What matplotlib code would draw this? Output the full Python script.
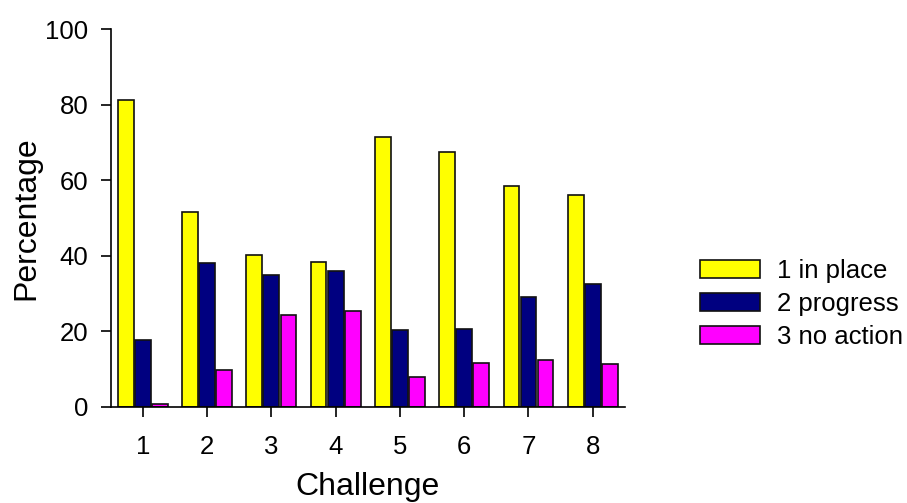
import matplotlib
matplotlib.use('Agg')
import matplotlib.pyplot as plt
import numpy as np

plt.rcParams['font.family'] = ['Liberation Sans', 'DejaVu Sans']

challenges = [1, 2, 3, 4, 5, 6, 7, 8]
in_place = [81.2, 51.7, 40.3, 38.3, 71.5, 67.5, 58.5, 56.1]
progress = [17.7, 38.2, 35.0, 36.0, 20.3, 20.5, 29.0, 32.5]
no_action = [0.8, 9.8, 24.3, 25.4, 7.9, 11.6, 12.4, 11.4]
series_names = ['1 in place', '2 progress', '3 no action']
colors = ['#FFFF00', '#000080', '#FF00FF']

fig = plt.figure(figsize=(9.07, 5.03), dpi=100)
ax = fig.add_axes([0.122, 0.191, 0.567, 0.751])

x = np.array(challenges)
width = 0.245
step = 0.265
for i, (vals, name, c) in enumerate(zip([in_place, progress, no_action], series_names, colors)):
    ax.bar(x + (i - 1) * step, vals, width, color=c, edgecolor='#111111',
           linewidth=1.2, label=name)

ax.set_xlim(0.5, 8.5)
ax.set_ylim(0, 100)
ax.set_xticks(challenges)
ax.set_yticks([0, 20, 40, 60, 80, 100])
ax.spines['top'].set_visible(False)
ax.spines['right'].set_visible(False)
for s in ['left', 'bottom']:
    ax.spines[s].set_linewidth(1.2)
ax.tick_params(axis='both', direction='out', length=7, width=1.2,
               labelsize=18.5, pad=9, colors='black')
ax.tick_params(axis='x', pad=13)

ax.set_xlabel('Challenge', fontsize=23)
ax.set_ylabel('Percentage', fontsize=23)
ax.xaxis.set_label_coords(0.5, -0.172)
ax.yaxis.set_label_coords(-0.134, 0.5)

fig.legend(loc='center left', bbox_to_anchor=(0.772, 0.396), frameon=False,
           fontsize=18.5, handlelength=2.33, handleheight=0.7,
           labelspacing=0.35, handletextpad=0.66, borderpad=0, borderaxespad=0)

plt.savefig('out.png', dpi=100)
